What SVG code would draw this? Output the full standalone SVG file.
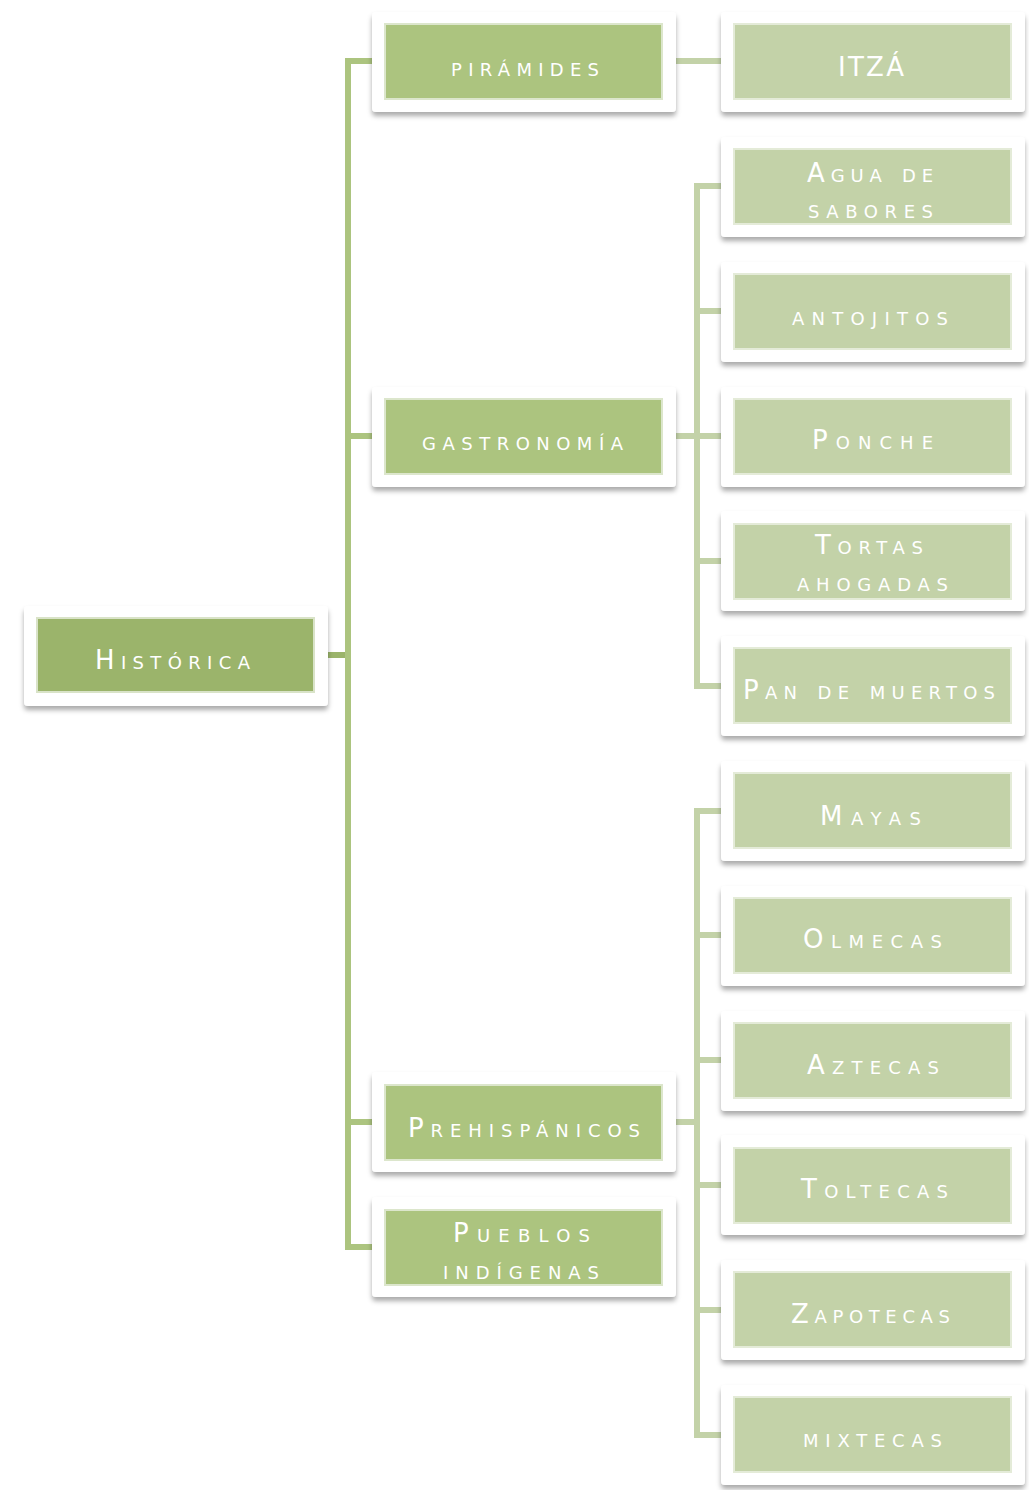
<svg xmlns="http://www.w3.org/2000/svg" width="1029" height="1490" viewBox="0 0 1029 1490">
<defs>
<filter id="sh" x="-10%" y="-20%" width="120%" height="150%">
<feGaussianBlur in="SourceAlpha" stdDeviation="2.5"/>
<feOffset dy="4" result="b"/>
<feFlood flood-color="#000" flood-opacity="0.33"/>
<feComposite in2="b" operator="in"/>
<feMerge><feMergeNode/><feMergeNode in="SourceGraphic"/></feMerge>
</filter>
</defs>
<style>
.card{fill:#ffffff;filter:url(#sh)}
.r{fill:#9bb46b;stroke:#d9e3c8;stroke-width:2}
.l1{fill:#acc47f;stroke:#dce6cc;stroke-width:2}
.l2{fill:#c3d2a8;stroke:#e4ebd8;stroke-width:2}
text{font-family:"DejaVu Sans",sans-serif;font-size:26px;font-variant:small-caps;fill:#ffffff;text-anchor:start}
.c0{stroke:#9bb46b;stroke-width:6;fill:none}
.c1{stroke:#acc47f;stroke-width:6;fill:none}
.c2{stroke:#c3d2a8;stroke-width:6;fill:none}
</style>
<rect width="1029" height="1490" fill="#ffffff"/>
<g id="connectors">
<path class="c0" d="M327 655H348"/>
<path class="c1" d="M372 61H348V1247H372M348 436H372M348 1122H372"/>
<path class="c2" d="M676 61H721"/>
<path class="c2" d="M676 436H697M721 186H697V686H721M697 311H721M697 436H721M697 561H721"/>
<path class="c2" d="M676 1122H697M721 811H697V1435H721M697 935H721M697 1060H721M697 1185H721M697 1310H721"/>
</g>
<g id="n-historica"><rect class="card" x="24" y="606" width="304" height="100" rx="4"/><rect class="r" x="37" y="618" width="277" height="74"/><text x="95" y="669" textLength="155" lengthAdjust="spacing">Histórica</text></g>
<g id="n-piramides"><rect class="card" x="372" y="12" width="304" height="100" rx="4"/><rect class="l1" x="385" y="24" width="277" height="75"/><text x="451" y="76" textLength="148" lengthAdjust="spacing">pirámides</text></g>
<g id="n-gastronomia"><rect class="card" x="372" y="387" width="304" height="100" rx="4"/><rect class="l1" x="385" y="399" width="277" height="75"/><text x="422" y="450" textLength="201" lengthAdjust="spacing">gastronomía</text></g>
<g id="n-prehispanicos"><rect class="card" x="372" y="1072" width="304" height="100" rx="4"/><rect class="l1" x="385" y="1085" width="277" height="75"/><text x="408" y="1137" textLength="232" lengthAdjust="spacing">Prehispánicos</text></g>
<g id="n-pueblos"><rect class="card" x="372" y="1197" width="304" height="100" rx="4"/><rect class="l1" x="385" y="1210" width="277" height="75"/><text x="453" y="1242" textLength="137" lengthAdjust="spacing">Pueblos</text><text x="443" y="1279" textLength="156" lengthAdjust="spacing">indígenas</text></g>
<g id="n-itza"><rect class="card" x="721" y="12" width="304" height="100" rx="4"/><rect class="l2" x="734" y="24" width="277" height="75"/><text x="838" y="76" textLength="66" lengthAdjust="spacing">ITZÁ</text></g>
<g id="n-agua"><rect class="card" x="721" y="137" width="304" height="100" rx="4"/><rect class="l2" x="734" y="149" width="277" height="75"/><text x="807" y="182" textLength="126" lengthAdjust="spacing">Agua de</text><text x="808" y="218" textLength="125" lengthAdjust="spacing">sabores</text></g>
<g id="n-antojitos"><rect class="card" x="721" y="262" width="304" height="100" rx="4"/><rect class="l2" x="734" y="274" width="277" height="75"/><text x="792" y="325" textLength="156" lengthAdjust="spacing">antojitos</text></g>
<g id="n-ponche"><rect class="card" x="721" y="387" width="304" height="100" rx="4"/><rect class="l2" x="734" y="399" width="277" height="75"/><text x="812" y="449" textLength="121" lengthAdjust="spacing">Ponche</text></g>
<g id="n-tortas"><rect class="card" x="721" y="511" width="304" height="100" rx="4"/><rect class="l2" x="734" y="524" width="277" height="75"/><text x="815" y="554" textLength="108" lengthAdjust="spacing">Tortas</text><text x="797" y="591" textLength="151" lengthAdjust="spacing">ahogadas</text></g>
<g id="n-pan"><rect class="card" x="721" y="636" width="304" height="100" rx="4"/><rect class="l2" x="734" y="648" width="277" height="75"/><text x="743" y="699" textLength="252" lengthAdjust="spacing">Pan de muertos</text></g>
<g id="n-mayas"><rect class="card" x="721" y="761" width="304" height="100" rx="4"/><rect class="l2" x="734" y="773" width="277" height="75"/><text x="820" y="825" textLength="101" lengthAdjust="spacing">Mayas</text></g>
<g id="n-olmecas"><rect class="card" x="721" y="886" width="304" height="100" rx="4"/><rect class="l2" x="734" y="898" width="277" height="75"/><text x="803" y="948" textLength="139" lengthAdjust="spacing">Olmecas</text></g>
<g id="n-aztecas"><rect class="card" x="721" y="1011" width="304" height="100" rx="4"/><rect class="l2" x="734" y="1023" width="277" height="75"/><text x="807" y="1074" textLength="132" lengthAdjust="spacing">Aztecas</text></g>
<g id="n-toltecas"><rect class="card" x="721" y="1135" width="304" height="100" rx="4"/><rect class="l2" x="734" y="1148" width="277" height="75"/><text x="801" y="1198" textLength="147" lengthAdjust="spacing">Toltecas</text></g>
<g id="n-zapotecas"><rect class="card" x="721" y="1260" width="304" height="100" rx="4"/><rect class="l2" x="734" y="1272" width="277" height="75"/><text x="791" y="1323" textLength="159" lengthAdjust="spacing">Zapotecas</text></g>
<g id="n-mixtecas"><rect class="card" x="721" y="1385" width="304" height="100" rx="4"/><rect class="l2" x="734" y="1397" width="277" height="75"/><text x="803" y="1447" textLength="139" lengthAdjust="spacing">mixtecas</text></g>
</svg>
